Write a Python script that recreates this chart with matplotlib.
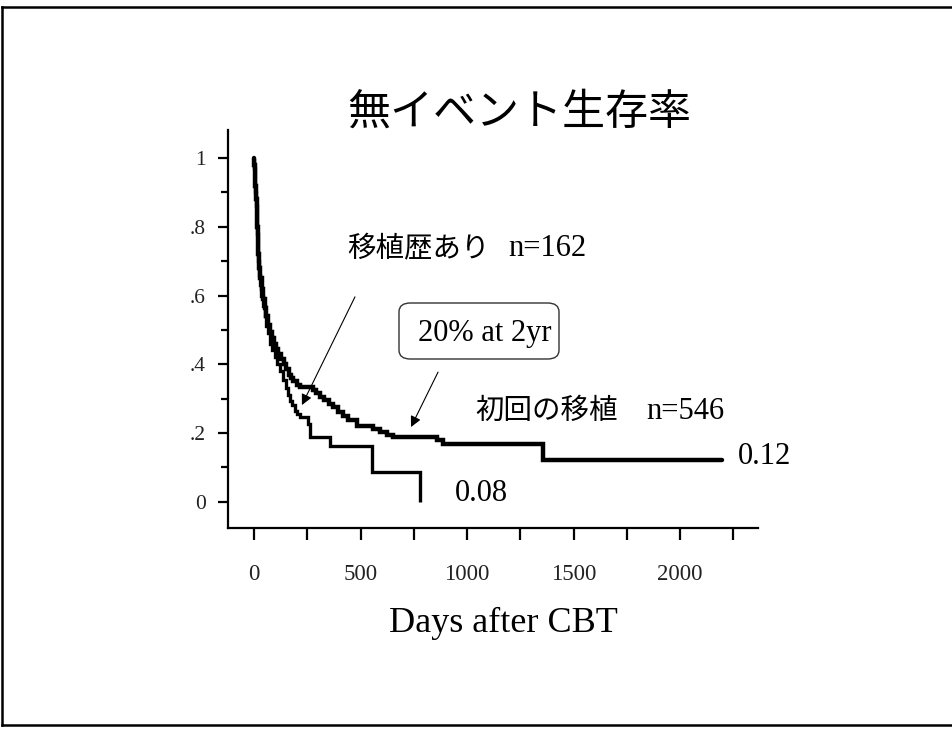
import matplotlib
matplotlib.use("Agg")
import matplotlib.pyplot as plt
from matplotlib.patches import FancyBboxPatch
from matplotlib.lines import Line2D

# ---------------- data ----------------
title = "無イベント生存率"
xlabel = "Days after CBT"

# 初回の移植 (first transplant), n=546
first_days = [0, 2, 4, 6, 9, 12, 15, 18, 21, 25, 30, 36, 43, 50, 58, 66, 75, 85, 95,
              105, 115, 128, 140, 152, 165, 175, 185, 200, 216, 277, 290, 310, 330,
              350, 371, 395, 418, 440, 484, 559, 590, 624, 653, 859, 887, 1355, 2197]
first_surv = [1.0, 0.98, 0.95, 0.92, 0.88, 0.84, 0.80, 0.76, 0.72, 0.68, 0.65, 0.62,
              0.59, 0.565, 0.54, 0.515, 0.495, 0.475, 0.46, 0.445, 0.43, 0.415, 0.40,
              0.385, 0.37, 0.36, 0.35, 0.34, 0.333, 0.325, 0.315, 0.305, 0.295, 0.285,
              0.275, 0.262, 0.248, 0.238, 0.22, 0.21, 0.203, 0.195, 0.187, 0.178,
              0.168, 0.122, 0.122]

# 移植歴あり (previous transplant), n=162
prev_days = [0, 2, 4, 6, 9, 12, 15, 18, 21, 25, 30, 35, 42, 50, 58, 66, 75, 85, 99,
             110, 122, 136, 150, 160, 169, 180, 192, 204, 216, 254, 263, 357, 552, 779]
prev_surv = [1.0, 0.97, 0.93, 0.90, 0.86, 0.82, 0.78, 0.74, 0.70, 0.66, 0.63, 0.60,
             0.57, 0.54, 0.51, 0.49, 0.46, 0.44, 0.42, 0.40, 0.38, 0.353, 0.33, 0.31,
             0.294, 0.28, 0.265, 0.255, 0.246, 0.227, 0.187, 0.163, 0.085, 0.0]

x_major = [0, 250, 500, 750, 1000, 1250, 1500, 1750, 2000, 2250]
x_labels = ["0", "", "500", "", "1000", "", "1500", "", "2000", ""]
y_major = [0, 0.2, 0.4, 0.6, 0.8, 1.0]
y_labels = ["0", ".2", ".4", ".6", ".8", "1"]
y_minor = [0.1, 0.3, 0.5, 0.7, 0.9]

label_prev = "移植歴あり"
n_prev = "n=162"
label_first = "初回の移植"
n_first = "n=546"
end_first = "0.12"
end_prev = "0.08"
box_text = "20% at 2yr"

SERIF = "Liberation Serif"
CJK = "Noto Sans CJK JP"

W, H = 952, 731
fig = plt.figure(figsize=(W / 100, H / 100), dpi=100)
fig.patch.set_facecolor("white")


def fx(px):
    return px / W


def fy(py):
    return 1 - py / H


ax = fig.add_axes([fx(228), fy(528), (758 - 228) / W, (528 - 130) / H])
ax.set_xlim(-122, 2366)
ax.set_ylim(-0.077, 1.082)

ax.step(first_days, first_surv, where="post", color="black", lw=3.2,
        solid_capstyle="round", solid_joinstyle="miter")
ax.step(prev_days, prev_surv, where="post", color="black", lw=2.4,
        solid_capstyle="butt", solid_joinstyle="miter")

for s in ["top", "right"]:
    ax.spines[s].set_visible(False)
for s in ["left", "bottom"]:
    ax.spines[s].set_linewidth(1.6)

ax.set_xticks(x_major)
ax.set_xticklabels(x_labels, fontfamily=SERIF, fontsize=16.5, color="#222222")
ax.set_yticks(y_major)
ax.set_yticklabels(y_labels, fontfamily=SERIF, fontsize=15.5, color="#222222")
ax.set_yticks(y_minor, minor=True)
ax.tick_params(axis="x", which="major", direction="out", length=8.6, width=1.6, pad=17)
ax.tick_params(axis="y", which="major", direction="out", length=7, width=1.6, pad=9)
ax.tick_params(axis="y", which="minor", direction="out", length=5, width=1.6)

# title and labels
fig.text(fx(519), fy(113), title, fontfamily=CJK, fontsize=31, ha="center", va="center")
fig.text(fx(503), fy(632), xlabel, fontfamily=SERIF, fontsize=26, ha="center",
         va="baseline")

fig.text(fx(347), fy(256), label_prev, fontfamily=CJK, fontsize=20.5, ha="left",
         va="baseline")
fig.text(fx(508), fy(256), n_prev, fontfamily=SERIF, fontsize=22, ha="left",
         va="baseline")
fig.text(fx(475), fy(419), label_first, fontfamily=CJK, fontsize=20.5, ha="left",
         va="baseline")
fig.text(fx(646), fy(419), n_first, fontfamily=SERIF, fontsize=22, ha="left",
         va="baseline")
fig.text(fx(738), fy(464), end_first, fontfamily=SERIF, fontsize=22, ha="left",
         va="baseline")
fig.text(fx(455), fy(501), end_prev, fontfamily=SERIF, fontsize=22, ha="left",
         va="baseline")

# rounded box
box = FancyBboxPatch((fx(399), fy(359)), (559 - 399) / W, (359 - 303) / H,
                     boxstyle="round,pad=0,rounding_size=0.012",
                     transform=fig.transFigure, facecolor="white",
                     edgecolor="#333333", lw=1.0)
fig.add_artist(box)
fig.text(fx(418), fy(341), box_text, fontfamily=SERIF, fontsize=22, ha="left",
         va="baseline")

# arrows
arrow_kw = dict(arrowstyle="-|>", lw=0.8, color="black", mutation_scale=16,
                shrinkA=0, shrinkB=0)
ax.annotate("", xy=(225, 0.281), xytext=(474, 0.596), arrowprops=arrow_kw)
ax.annotate("", xy=(737, 0.217), xytext=(864, 0.377), arrowprops=arrow_kw)

# outer frame
for (x0, y0, x1, y1) in [(2, 7, 2, 725), (2, 7, 952, 7), (2, 725, 952, 725)]:
    fig.add_artist(Line2D([fx(x0), fx(x1)], [fy(y0), fy(y1)],
                          transform=fig.transFigure, color="black", lw=1.8))

fig.savefig("out.png", dpi=100)
